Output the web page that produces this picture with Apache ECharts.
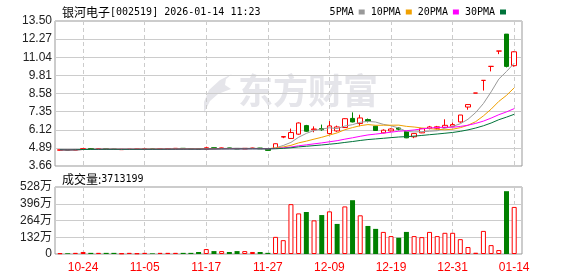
<!DOCTYPE html>
<html><head><meta charset="utf-8">
<script src="https://cdn.jsdelivr.net/npm/echarts@6/dist/echarts.min.js"></script>
<style>html,body{margin:0;padding:0;background:#fff}#c{width:578px;height:276px}</style>
</head><body><div id="c"></div>
<script>
// ---- data ----
const dates = ['10-21','10-22','10-23','10-24','10-27','10-28','10-29','10-30','10-31','11-03','11-04','11-05','11-06','11-07','11-10','11-11','11-12','11-13','11-14','11-17','11-18','11-19','11-20','11-21','11-24','11-25','11-26','11-27','11-28','12-01','12-02','12-03','12-04','12-05','12-08','12-09','12-10','12-11','12-12','12-15','12-16','12-17','12-18','12-19','12-22','12-23','12-24','12-25','12-26','12-29','12-30','12-31','01-05','01-06','01-07','01-08','01-09','01-12','01-13','01-14'];
const opens  = [4.73,4.77,4.74,4.78,4.84,4.80,4.83,4.81,4.77,4.78,4.79,4.80,4.82,4.79,4.81,4.83,4.86,4.84,4.82,4.80,4.90,4.85,4.89,4.85,4.82,4.85,4.88,4.80,4.86,5.62,5.53,5.82,6.40,6.12,6.20,5.86,6.04,6.27,6.89,6.54,6.81,6.36,5.91,6.04,6.24,6.00,5.64,5.91,6.20,6.22,6.27,6.36,6.65,7.66,8.61,9.47,10.42,11.46,12.61,10.47];
const closes = [4.76,4.74,4.78,4.84,4.81,4.83,4.80,4.78,4.79,4.80,4.81,4.82,4.79,4.82,4.84,4.86,4.83,4.81,4.79,4.90,4.86,4.89,4.85,4.82,4.86,4.88,4.83,4.72,5.17,5.66,5.93,6.58,6.02,6.17,6.12,6.38,6.31,6.87,6.65,6.92,6.70,6.07,6.09,6.17,6.16,5.57,5.86,6.20,6.31,6.32,6.42,6.47,7.12,7.83,8.61,9.47,10.42,11.46,10.42,11.41];
const lows   = [4.71,4.73,4.73,4.77,4.80,4.79,4.79,4.77,4.76,4.77,4.78,4.79,4.78,4.78,4.80,4.82,4.82,4.80,4.78,4.79,4.85,4.84,4.84,4.81,4.81,4.84,4.82,4.70,4.84,5.55,5.50,5.78,5.98,5.95,6.05,5.80,5.98,6.25,6.62,6.36,6.62,6.05,5.88,6.00,6.08,5.55,5.55,5.89,6.15,6.15,6.25,6.33,6.60,7.48,8.61,8.78,10.08,11.25,10.35,10.40];
const highs  = [4.77,4.78,4.79,4.86,4.85,4.84,4.84,4.82,4.80,4.81,4.82,4.83,4.83,4.83,4.85,4.87,4.87,4.85,4.83,4.97,4.91,4.91,4.90,4.86,4.87,4.90,4.89,4.81,5.19,5.69,6.20,6.62,6.45,6.35,6.47,6.71,6.40,6.90,7.30,7.14,6.88,6.38,6.15,6.22,6.30,6.02,5.88,6.22,6.38,6.38,6.83,6.60,7.12,7.83,8.61,9.47,10.42,11.46,12.61,11.45];
const volumes = [6,6,9,16,9,9,9,9,5,9,5,9,5,9,9,9,9,9,16,39,23,23,16,23,23,16,16,9,135,109,393,320,331,265,307,336,237,375,424,305,221,198,174,141,128,174,141,133,174,141,167,167,117,55,10,182,70,31,495,371]; // 万
const tickLabels = ['10-24','11-05','11-17','11-27','12-09','12-19','12-31','01-14'];
const priceTicks = {min: 3.66, max: 13.50, step: 1.23};
const volTicks = {min: 0, max: 528, step: 132};
const maPeriods = [5, 10, 20, 30];
const maNames = ['5PMA', '10PMA', '20PMA', '30PMA'];
const maColors = ['#999999', '#f0a000', '#ff00ff', '#00733a'];
const titleCode = '[002519] 2026-01-14 11:23';
const lastVolText = '3713199';

// ---- build ----
const UP = '#ff0000', DOWN = '#008000';
function ma(n) {
  return closes.map((_, i) => {
    const s = Math.max(0, i - n + 1);
    let sum = 0;
    for (let k = s; k <= i; k++) sum += closes[k];
    return +(sum / (i - s + 1)).toFixed(3);
  });
}
const kData = dates.map((_, i) => [opens[i], closes[i], lows[i], highs[i]]);
const volData = volumes.map((v, i) => {
  const up = i === 0 ? closes[i] >= opens[i] : closes[i] >= closes[i - 1];
  return {value: v, itemStyle: up ? {color: '#fff', borderColor: UP, borderWidth: 1} : {color: DOWN}};
});
const showIdx = (i) => tickLabels.indexOf(dates[i]) >= 0;
const font = "'Liberation Sans', Arial, 'Noto Sans CJK SC', sans-serif";
const mono = "'DejaVu Sans Mono', monospace";

const L = 55, R = 56;          // frame
const DL = 60, DR = 63.8;      // data (category centres)
const PT = 21, PH = 145, VT = 187, VH = 67;

const chart = echarts.init(document.getElementById('c'), null, {renderer: 'canvas', devicePixelRatio: 1});
const richTitle = {
  a: {fontFamily: 'Noto Sans CJK SC', fontSize: 12, color: '#000', fontWeight: 'normal'},
  b: {fontFamily: mono, fontSize: 10, color: '#000', fontWeight: 'normal'}
};
const option = {
  animation: false,
  backgroundColor: '#fff',
  title: [
    {text: '{a|银河电子}{b|' + titleCode + '}', left: 57, top: 1, textStyle: {fontWeight: 'normal', rich: richTitle}},
    {text: '{a|成交量:}{b|' + lastVolText + '}', left: 57, top: 168, textStyle: {fontWeight: 'normal', rich: richTitle}}
  ],
  legend: {
    right: 67, top: 2, align: 'right', icon: 'rect', itemWidth: 6, itemHeight: 5, itemGap: 6,
    textStyle: {fontFamily: mono, fontSize: 10, color: '#000'},
    data: maNames
  },
  graphic: [
    {type: 'text', left: 238, top: 73, z: 0, style: {text: '东方财富', fontSize: 35, fontWeight: 'bold', fontFamily: 'Noto Sans CJK SC', fill: '#e5e5ea'}},
    {type: 'polygon', z: 0, shape: {points: [[232, 74], [220, 80], [209, 90], [204, 102], [204, 113], [210, 101], [218, 94], [231, 89], [225, 85], [226, 79]]}, style: {fill: '#e5e5ea'}}
  ],
  grid: [
    {left: DL, right: DR, top: PT, height: PH, show: false},
    {left: DL, right: DR, top: VT, height: VH, show: false},
    {left: L, right: R, top: PT, height: PH, show: true, borderColor: '#999', borderWidth: 1, backgroundColor: 'transparent'},
    {left: L, right: R, top: VT, height: VH, show: true, borderColor: '#999', borderWidth: 1, backgroundColor: 'transparent'}
  ],
  xAxis: [
    {type: 'category', gridIndex: 0, data: dates, boundaryGap: false,
     axisLine: {show: false}, axisTick: {show: false}, axisLabel: {show: false},
     splitLine: {show: true, interval: (i) => showIdx(i), lineStyle: {color: '#ccc', type: [4, 3]}}},
    {type: 'category', gridIndex: 1, data: dates, boundaryGap: false,
     axisLine: {show: false}, axisTick: {show: false},
     axisLabel: {show: true, interval: (i) => showIdx(i), color: '#ff0000', fontFamily: font, fontSize: 12, margin: 8},
     splitLine: {show: true, interval: (i) => showIdx(i), lineStyle: {color: '#ccc', type: [4, 3]}}},
    {type: 'value', gridIndex: 2, min: 0, max: 1, show: false},
    {type: 'value', gridIndex: 3, min: 0, max: 1, show: false}
  ],
  yAxis: [
    {type: 'value', gridIndex: 0, min: priceTicks.min, max: priceTicks.max, show: false},
    {type: 'value', gridIndex: 1, min: volTicks.min, max: volTicks.max, show: false},
    {type: 'value', gridIndex: 2, min: priceTicks.min, max: priceTicks.max, interval: priceTicks.step,
     axisLine: {show: false}, axisTick: {show: false},
     axisLabel: {color: '#222', fontFamily: font, fontSize: 12, margin: 3, formatter: (v) => v.toFixed(2)},
     splitLine: {show: true, lineStyle: {color: '#ccc'}}},
    {type: 'value', gridIndex: 3, min: volTicks.min, max: volTicks.max, interval: volTicks.step,
     axisLine: {show: false}, axisTick: {show: false},
     axisLabel: {color: '#222', fontFamily: font, fontSize: 12, margin: 3, formatter: (v) => v === 0 ? '0' : Math.round(v) + '万'},
     splitLine: {show: true, lineStyle: {color: '#ccc'}}}
  ],
  series: [
    {type: 'candlestick', xAxisIndex: 0, yAxisIndex: 0, data: kData, barWidth: 5, clip: false,
     itemStyle: {color: '#fff', color0: DOWN, borderColor: UP, borderColor0: DOWN, borderWidth: 1}},
    ...maPeriods.map((n, k) => ({
      type: 'line', name: maNames[k], xAxisIndex: 0, yAxisIndex: 0, data: ma(n), symbol: 'none',
      lineStyle: {width: 1, color: maColors[k]}, itemStyle: {color: maColors[k]}, z: 3
    })),
    {type: 'bar', xAxisIndex: 1, yAxisIndex: 1, data: volData, barWidth: 5, clip: false}
  ]
};
chart.setOption(option);
</script>
</body></html>
